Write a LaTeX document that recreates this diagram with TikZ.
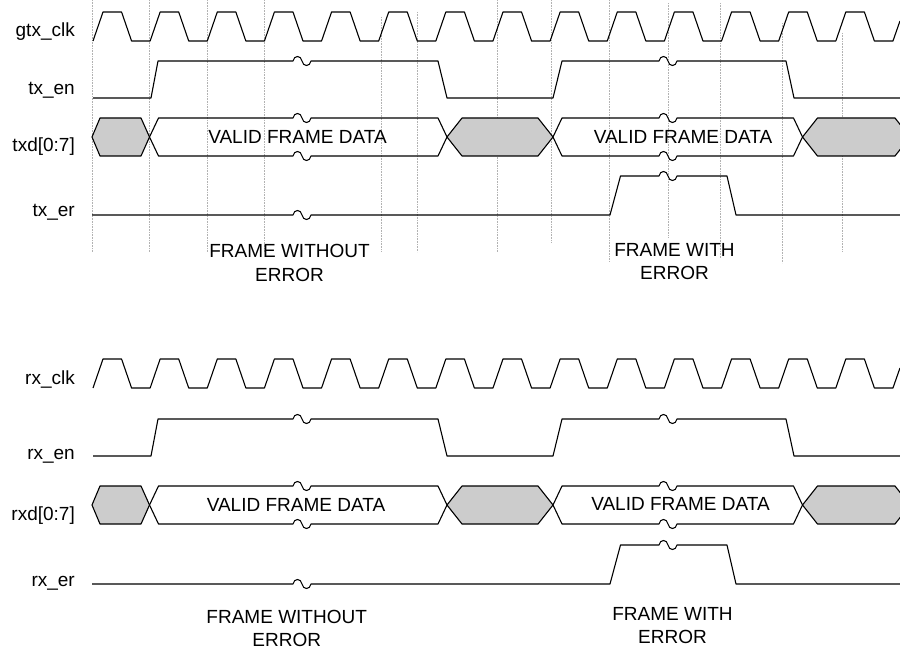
\documentclass[tikz,border=0pt]{standalone}
\usepackage{fontspec}
\setmainfont{Liberation Sans}
\newcommand{\wavebreak}{.. controls +(1,-6) and +(-1,-6) .. ++(9,0) .. controls +(1,6) and +(-1,6) .. ++(9,0)}

\begin{document}
\begin{tikzpicture}[x=1pt, y=-1pt,
	sig/.style={
		line width=1.1pt,
		line join=round
	},
	busgray/.style={sig, fill=black!20},
	gridline/.style={densely dotted, line width=0.6pt, black!30},
	siglabel/.style={anchor=base east, inner sep=0pt},
	note/.style={align=center, anchor=north, inner sep=0pt},
	every node/.style={font=\fontsize{19}{23.5}\selectfont}]

	\useasboundingbox (0,0) rectangle (900,650);
	\clip (0,0) rectangle (900,650);

	\foreach \x/\a/\b in {92/0/252, 149/0/252, 207/0/252, 264/0/252, 381/17/252, 417/12/252, 497/0/252,
		551/0/242, 609/0/261, 668/3/237, 720/3/258, 782/23/263, 842/33/252}
		\draw[gridline] (\x,\a) -- (\x,\b);

	\foreach \c/\e/\d/\r in {12/61/137/215, 359/419/505/584} {
		\draw[sig] (93,\c+29) \foreach \k in {0,...,13} { -- ++(10,-29) -- ++(18.57,0) -- ++(10,29) -- ++(18.57,0) } -- ++(7,-20);

		\draw[sig] (93,\e+37) -- (151,\e+37) -- (158,\e) -- (293,\e) \wavebreak -- (438,\e) -- (447,\e+37)
			-- (553,\e+37) -- (562,\e) -- (659,\e) \wavebreak -- (786,\e) -- (794,\e+37) -- (900,\e+37);

		\draw[busgray] (92,\d) -- (100,\d-19) -- (141,\d-19) -- (149.5,\d) -- (141,\d+19) -- (100,\d+19) -- cycle;
		\draw[busgray] (447,\d) -- (462,\d-19) -- (538,\d-19) -- (553,\d) -- (538,\d+19) -- (462,\d+19) -- cycle;
		\draw[busgray] (802.5,\d) -- (817.5,\d-19) -- (895,\d-19) -- (910,\d) -- (895,\d+19) -- (817.5,\d+19) -- cycle;
		\foreach \s in {-19,19} {
			\draw[sig] (149.5,\d) -- (158.5,\d+\s) -- (293,\d+\s) \wavebreak -- (438,\d+\s) -- (447,\d);
			\draw[sig] (553,\d) -- (562,\d+\s) -- (659,\d+\s) \wavebreak -- (793.5,\d+\s) -- (802.5,\d);
		}

		\draw[sig] (92,\r) -- (293,\r) \wavebreak -- (610,\r) -- (620.5,\r-39) -- (659,\r-39) \wavebreak
			-- (727,\r-39) -- (736,\r) -- (900,\r);
	}

	\node[siglabel] (gtxclk) at (75,37) {gtx\_clk};
	\node[siglabel] (txen) at (75,95) {tx\_en};
	\node[siglabel] (txd) at (75,151.5) {txd[0:7]};
	\node[siglabel] (txer) at (75,216.5) {tx\_er};
	\node[siglabel] (rxclk) at (75,384) {rx\_clk};
	\node[siglabel] (rxen) at (75,459) {rx\_en};
	\node[siglabel] (rxd) at (75,520) {rxd[0:7]};
	\node[siglabel] (rxer) at (75,586.5) {rx\_er};

	\node[anchor=base] (txvalida) at (297.5,144) {VALID FRAME DATA};
	\node[anchor=base] (txvalidb) at (683,144) {VALID FRAME DATA};
	\node[anchor=base] (rxvalida) at (296,511.5) {VALID FRAME DATA};
	\node[anchor=base] (rxvalidb) at (680.5,510.7) {VALID FRAME DATA};

	\node[note] (txnoerr) at (289.5,244.5) {FRAME WITHOUT\\ERROR};
	\node[note] (txerr) at (674.5,243) {FRAME WITH\\ERROR};
	\node[note] (rxnoerr) at (286.7,610) {FRAME WITHOUT\\ERROR};
	\node[note] (rxerr) at (672.5,607) {FRAME WITH\\ERROR};
\end{tikzpicture}
\end{document}
